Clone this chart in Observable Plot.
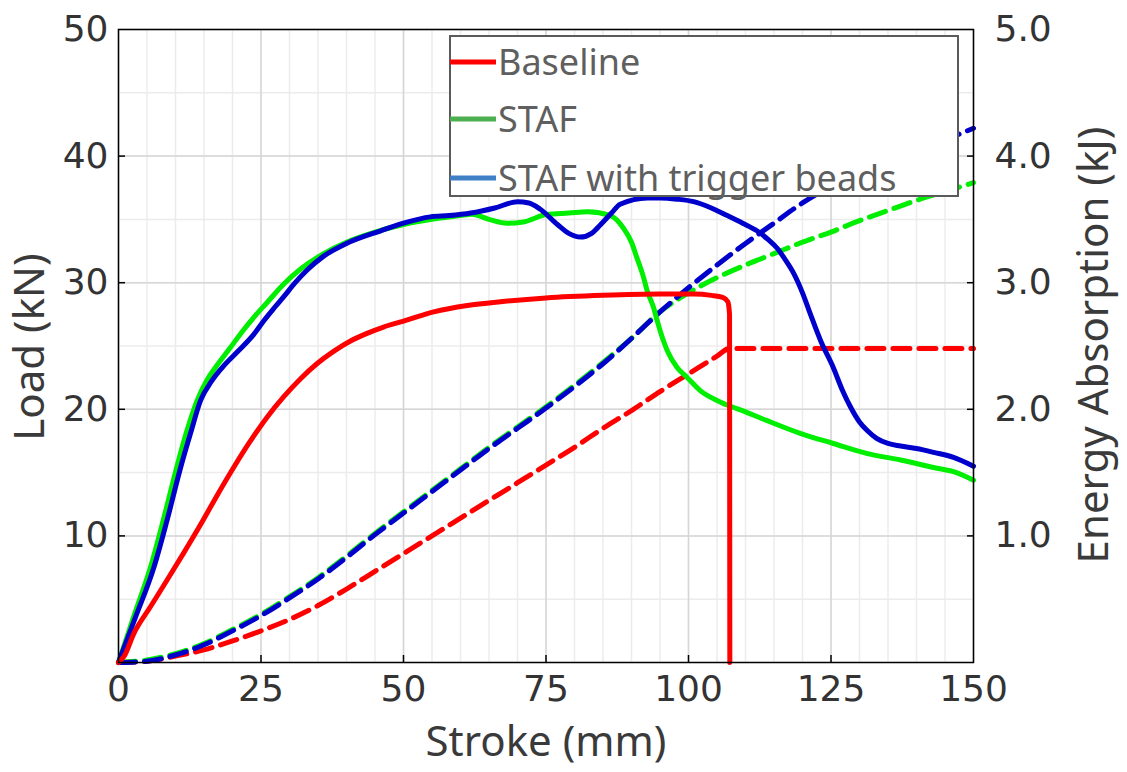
<!DOCTYPE html>
<html><head><meta charset="utf-8">
<script src="https://cdn.jsdelivr.net/npm/d3@7"></script>
<script src="https://cdn.jsdelivr.net/npm/@observablehq/plot@0.6"></script>
<style>html,body{margin:0;padding:0;background:#fff}</style>
</head><body><div id="chart"></div>
<script>
// ---------- data ----------
const seriesNames = ["Baseline", "STAF", "STAF with trigger beads"];

// Load (kN) vs stroke (mm)
const baselineStroke = [0,1,2.7,5.6,8.5,11.5,14.4,17.3,20.2,23,26.1,29,31.9,34.8,37.8,40.7,43.6,46.5,49.5,55.3,61.2,67,75,85,95,101,104,106,106.9,107.2,107.25];
const baselineLoad   = [0,0.5,2.3,4.4,6.5,8.7,10.9,13.2,15.4,17.4,19.4,21.0,22.4,23.6,24.6,25.4,26.0,26.5,26.9,27.7,28.2,28.5,28.8,29.0,29.1,29.1,29.0,28.85,28.5,27.5,0];

const stafStroke = [0,2.8,5.6,8,10.2,12,13.8,15.5,17,19.5,22,24,26,29,32,36,40,45,50,55,60,62,65,68.2,71,75.2,79,82.3,86.3,88.6,90,91,92,92.8,93.9,94.5,96.3,98,99.8,102,105,107,110,113.8,119.6,125.4,131.4,137.2,143,147,150];
const stafLoad   = [0,3.8,7.5,11.5,15.4,18.3,20.7,22.3,23.3,24.8,26.3,27.4,28.4,29.9,31.1,32.3,33.2,34.0,34.6,35.0,35.3,35.4,35.0,34.7,34.8,35.4,35.5,35.6,35.3,34.3,33.2,31.9,30.6,29.3,28.0,27.0,24.6,23.3,22.5,21.5,20.7,20.3,19.8,19.1,18.1,17.3,16.5,16.0,15.4,15.0,14.4];

const beadsStroke = [0,3,6.2,8.5,10.9,12.7,14.4,16.3,18.2,21,23.7,25.5,27.3,29,31,33.1,36,40,46,50,54.7,58,61.8,66,70,72,74,77,79,81,83,84.6,86.5,88,92.8,95.1,98,100.9,104,106.8,109.5,112,114,115.6,117,118.5,120,121.4,123.2,125.4,127,128.4,130,131.4,133,135,137.2,140,143,146.5,150];
const beadsLoad   = [0,3.6,7.5,11.2,15.4,18.2,20.7,22.2,23.3,24.6,25.9,27.0,28.0,28.9,30.0,31.0,32.1,33.1,34.1,34.7,35.2,35.3,35.5,35.9,36.4,36.3,35.8,34.6,33.9,33.6,33.9,34.6,35.5,36.2,36.7,36.7,36.6,36.4,35.9,35.3,34.7,34.1,33.4,32.7,31.8,30.7,29.2,27.5,25.4,23.3,21.5,20.2,19.0,18.3,17.7,17.3,17.1,16.9,16.6,16.2,15.5];

// Energy absorption (kJ) vs stroke (mm)
const energyStroke = [0,5,10,15,20,25,30,35,40,45,50,55,60,65,70,75,80,85,90,95,100,105,110,115,120,125,130,135,140,145,150];
const stafEnergy   = [0,0.02,0.07,0.15,0.26,0.38,0.52,0.67,0.84,1.02,1.19,1.36,1.53,1.70,1.86,2.02,2.19,2.37,2.56,2.77,2.92,3.04,3.14,3.23,3.32,3.40,3.49,3.57,3.65,3.72,3.79];
const beadsEnergy  = [0,0.01,0.06,0.14,0.25,0.37,0.51,0.66,0.83,1.01,1.18,1.35,1.52,1.69,1.85,2.01,2.18,2.36,2.56,2.77,2.96,3.14,3.31,3.47,3.63,3.76,3.87,3.96,4.05,4.13,4.22];
const baselineEnergyStroke = [0,5,10,15,20,25,30,35,40,45,50,55,60,65,70,75,80,85,90,95,100,105,107.2,150];
const baselineEnergy       = [0,0.01,0.05,0.10,0.17,0.25,0.34,0.45,0.58,0.72,0.86,1.00,1.14,1.28,1.42,1.56,1.70,1.85,1.99,2.14,2.28,2.42,2.48,2.48];

// ticks
const xTicks = [0,25,50,75,100,125,150];
const xMinor = d3.range(0,151,5);
const loadTicks = [10,20,30,40,50];
const loadMinor = d3.range(0,51,5);
const energyTicks = [1,2,3,4,5];
const ENERGY_TO_LOAD = 10; // right axis 0–5 kJ shares the 0–50 kN frame

const lineColors = ["#ff0000", "#00ee00", "#0000cc"];
const legendColors = ["#ff0000", "#4caf50", "#3f7fc5"];

const toRows = (xs, ys, k = 1) => xs.map((x, i) => ({x, y: ys[i] * k}));

const solid = {strokeWidth: 5, curve: "monotone-x", strokeLinejoin: "round"};
const dashed = {strokeWidth: 5, curve: "monotone-x", strokeDasharray: "17,9"};

const chart = Plot.plot({
  width: 1127, height: 772,
  marginLeft: 118, marginRight: 154, marginTop: 29, marginBottom: 110,
  style: {fontFamily: "'DejaVu Sans', Verdana, sans-serif", fontSize: "36px", color: "#333", background: "#fff"},
  x: {domain: [0, 150]},
  y: {domain: [0, 50]},
  marks: [
    Plot.gridX(xMinor, {stroke: "#ececec", strokeOpacity: 1, strokeWidth: 1.5}),
    Plot.gridY(loadMinor, {stroke: "#ececec", strokeOpacity: 1, strokeWidth: 1.5}),
    Plot.gridX(xTicks, {stroke: "#d6d6d6", strokeOpacity: 1, strokeWidth: 1.5}),
    Plot.gridY(loadTicks, {stroke: "#d6d6d6", strokeOpacity: 1, strokeWidth: 1.5}),

    Plot.line(toRows(baselineEnergyStroke, baselineEnergy, ENERGY_TO_LOAD), {x: "x", y: "y", stroke: lineColors[0], ...dashed}),
    Plot.line(toRows(energyStroke, stafEnergy, ENERGY_TO_LOAD), {x: "x", y: "y", stroke: lineColors[1], ...dashed}),
    Plot.line(toRows(energyStroke, beadsEnergy, ENERGY_TO_LOAD), {x: "x", y: "y", stroke: lineColors[2], ...dashed}),

    Plot.line(toRows(stafStroke, stafLoad), {x: "x", y: "y", stroke: lineColors[1], ...solid}),
    Plot.line(toRows(beadsStroke, beadsLoad), {x: "x", y: "y", stroke: lineColors[2], ...solid}),
    Plot.line(toRows(baselineStroke, baselineLoad), {x: "x", y: "y", stroke: lineColors[0], ...solid}),

    Plot.frame({stroke: "#000", strokeWidth: 1.5}),

    // tick labels
    Plot.axisX(xTicks, {tickSize: 0, tickPadding: 13, label: null, fill: "#333"}),
    Plot.axisY(loadTicks, {anchor: "left", tickSize: 0, tickPadding: 10, label: null, fill: "#333"}),
    Plot.axisY(energyTicks.map(e => e * ENERGY_TO_LOAD), {anchor: "right", tickSize: 0, tickPadding: 21, label: null, fill: "#333",
      tickFormat: d => (d / ENERGY_TO_LOAD).toFixed(1)}),
    // inward tick marks
    Plot.axisX(xTicks.slice(1, -1), {tickSize: -7, tickFormat: () => "", label: null, stroke: "#000", strokeWidth: 1.5}),
    Plot.axisY(loadTicks.slice(0, -1), {anchor: "left", tickSize: -7, tickFormat: () => "", label: null, stroke: "#000", strokeWidth: 1.5}),
    Plot.axisY(energyTicks.slice(0, -1).map(e => e * ENERGY_TO_LOAD), {anchor: "right", tickSize: -7, tickFormat: () => "", label: null, stroke: "#000", strokeWidth: 1.5}),

    // x-axis title
    Plot.text(["Stroke (mm)"], {frameAnchor: "bottom", dy: 80, text: d => d, fontFamily: "'Noto Sans', sans-serif", fontSize: 42, fill: "#3a3a3a", lineAnchor: "middle"})
  ]
});

document.getElementById("chart").appendChild(chart);

const svg = d3.select(chart);
const titleFont = "'Noto Sans', sans-serif";

// rotated y-axis titles
[["Load (kN)", 29, 347], ["Energy Absorption (kJ)", 1093, 345]].forEach(([t, x, y]) => {
  svg.append("text")
    .attr("transform", `translate(${x},${y}) rotate(-90)`)
    .attr("text-anchor", "middle").attr("dy", "0.35em")
    .attr("font-family", titleFont).attr("font-size", 42).attr("fill", "#3a3a3a")
    .text(t);
});

// legend box inside the frame (top right)
const lg = svg.append("g").attr("class", "legend");
const box = {x: 450, y: 36, w: 508, h: 160};
lg.append("rect").attr("x", box.x).attr("y", box.y).attr("width", box.w).attr("height", box.h)
  .attr("fill", "#fff").attr("stroke", "#5a5a5a").attr("stroke-width", 2);
const rowY = [62, 119, 178];
seriesNames.forEach((name, i) => {
  lg.append("line").attr("x1", box.x).attr("x2", box.x + 46).attr("y1", rowY[i]).attr("y2", rowY[i])
    .attr("stroke", legendColors[i]).attr("stroke-width", 5);
  lg.append("text").attr("x", box.x + 48).attr("y", rowY[i]).attr("dy", "0.36em")
    .attr("text-anchor", "start")
    .attr("font-family", titleFont).attr("font-size", 36).attr("fill", "#5f5f5f")
    .text(name);
});
</script>
</body></html>
